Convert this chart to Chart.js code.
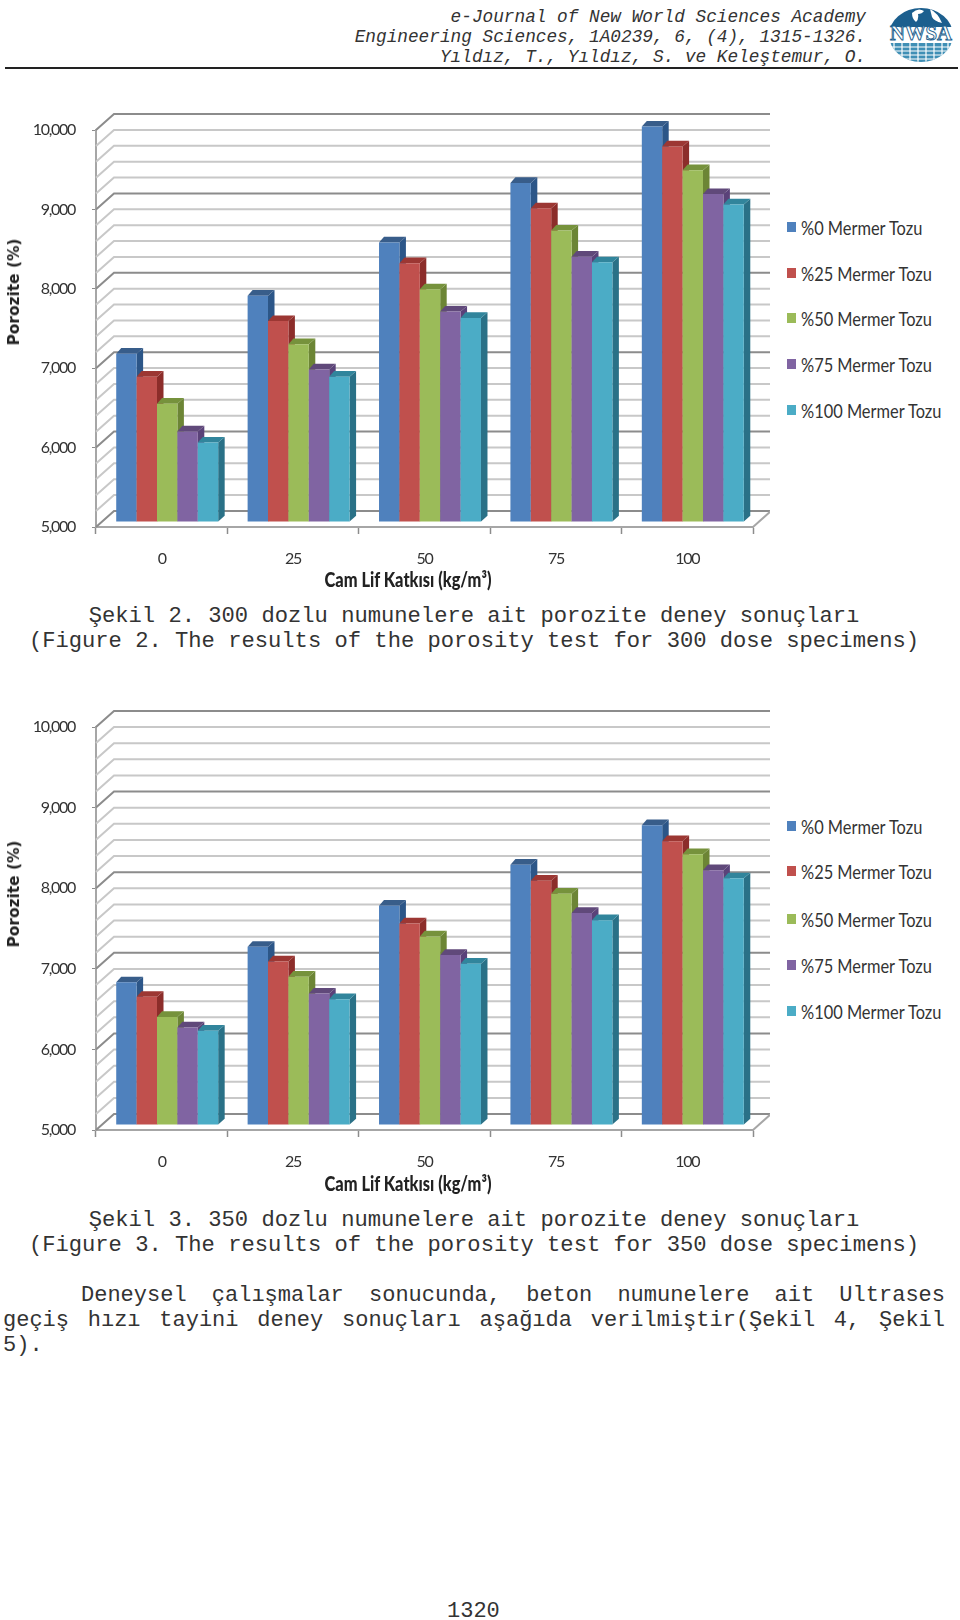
<!DOCTYPE html>
<html>
<head>
<meta charset="utf-8">
<title>Porozite</title>
<script src="https://cdn.jsdelivr.net/npm/chart.js@4/dist/chart.umd.min.js"></script>
<style>
html, body { margin: 0; background: #fff; }
#page { position: relative; width: 960px; height: 1620px; overflow: hidden; color: #222; }
canvas { position: absolute; left: 0; }
.t { position: absolute; white-space: pre; font-family: "Liberation Mono", monospace; line-height: 24px; height: 24px; }
.head { right: 94px; font-size: 17.75px; font-style: italic; color: #333; }
.cap { left: 0; width: 948px; text-align: center; font-size: 22.15px; color: #333; }
.par { font-size: 22px; text-align: justify; text-align-last: justify; white-space: normal; color: #333; }
.xt { font-family: Lato, sans-serif; font-weight: 900; font-size: 21px; transform: translateX(-50%) scaleX(.78); color: #222; }
.yt { font-family: "DejaVu Sans", sans-serif; font-weight: 700; font-size: 15.4px; transform: translate(-50%, -50%) rotate(-90deg); color: #222; }
.lg { position: absolute; left: 787px; height: 24px; width: 170px; }
.lg i { position: absolute; left: 0; top: 7px; width: 9px; height: 10px; }
.lg span { position: absolute; left: 14px; top: 0; line-height: 24px; font-family: Lato, sans-serif; font-size: 20px; color: #333; white-space: pre; transform: scaleX(.82); transform-origin: 0 50%; }
</style>
</head>
<body>
<div id="page">
  <div class="t head" style="top:5px">e-Journal of New World Sciences Academy</div>
  <div class="t head" style="top:25px">Engineering Sciences, 1A0239, 6, (4), 1315-1326.</div>
  <div class="t head" style="top:45px">Yıldız, T., Yıldız, S. ve Keleştemur, O.</div>
  <div style="position:absolute;left:5px;top:67px;width:953px;height:1.5px;background:#222"></div>
  <svg style="position:absolute;left:888px;top:7px" width="66" height="57" viewBox="0 0 66 57">
    <defs><clipPath id="globe"><ellipse cx="33" cy="28" rx="32" ry="27"/></clipPath></defs>
    <g clip-path="url(#globe)">
      <rect x="0" y="0" width="66" height="20" fill="#1c5f8e"/>
      <path d="M24 6 q6 -6 12 -2 q-2 3 -6 3 q1 5 -2 8 q-4 -3 -4 -9z M42 2 q8 4 12 14 q-8 -2 -10 -6z" fill="#fff"/>
      <rect x="0" y="36" width="66" height="20" fill="#3f8fb5"/>
      <path d="M0 40h66M0 44h66M0 48h66M0 52h66M6 36v20M14 36v20M22 36v20M30 36v20M38 36v20M46 36v20M54 36v20M60 36v20" stroke="#fff" stroke-width="1.2"/>
    </g>
    <text x="33" y="33" text-anchor="middle" font-family="Liberation Serif" font-weight="700" font-size="20" textLength="62" lengthAdjust="spacingAndGlyphs" fill="#fff" stroke="#1c5f8e" stroke-width=".9">NWSA</text>
  </svg>

  <canvas id="fig2" width="770" height="500" style="top:100px;width:770px;height:500px"></canvas>
  <canvas id="fig3" width="770" height="500" style="top:700px;width:770px;height:500px"></canvas>

  <div class="t yt" style="left:14px;top:292px;height:auto">Porozite (%)</div>
  <div class="t xt" style="left:408px;top:567px">Cam Lif Katkısı (kg/m³)</div>
  <div class="t yt" style="left:14px;top:894px;height:auto">Porozite (%)</div>
  <div class="t xt" style="left:408px;top:1171px">Cam Lif Katkısı (kg/m³)</div>
  <div id="legend2"></div>
  <div id="legend3"></div>

  <div class="t cap" style="top:605px">Şekil 2. 300 dozlu numunelere ait porozite deney sonuçları</div>
  <div class="t cap" style="top:630px">(Figure 2. The results of the porosity test for 300 dose specimens)</div>
  <div class="t cap" style="top:1209px">Şekil 3. 350 dozlu numunelere ait porozite deney sonuçları</div>
  <div class="t cap" style="top:1234px">(Figure 3. The results of the porosity test for 350 dose specimens)</div>
  <div class="t par" style="left:81px;width:864px;top:1284px">Deneysel çalışmalar sonucunda, beton numunelere ait Ultrases</div>
  <div class="t par" style="left:3px;width:942px;top:1309px">geçiş hızı tayini deney sonuçları aşağıda verilmiştir(Şekil 4, Şekil</div>
  <div class="t" style="left:3px;top:1334px;font-size:22px;color:#333">5).</div>
  <div class="t" style="left:447px;top:1600px;font-size:22px;color:#333">1320</div>
</div>

<script>
// Data
var categories = ['0', '25', '50', '75', '100'];
var seriesNames = ['%0 Mermer Tozu', '%25 Mermer Tozu', '%50 Mermer Tozu', '%75 Mermer Tozu', '%100 Mermer Tozu'];

var fig2m0 = [7.12, 7.85, 8.52, 9.27, 9.98];
var fig2m25 = [6.83, 7.53, 8.26, 8.95, 9.73];
var fig2m50 = [6.49, 7.24, 7.93, 8.67, 9.43];
var fig2m75 = [6.14, 6.92, 7.65, 8.34, 9.13];
var fig2m100 = [6.00, 6.83, 7.57, 8.27, 9.00];

var fig3m0 = [6.77, 7.21, 7.72, 8.23, 8.72];
var fig3m25 = [6.59, 7.03, 7.50, 8.03, 8.52];
var fig3m50 = [6.34, 6.84, 7.34, 7.87, 8.36];
var fig3m75 = [6.21, 6.63, 7.11, 7.63, 8.16];
var fig3m100 = [6.17, 6.56, 7.00, 7.54, 8.06];

var frontColors = ['#4f81bd', '#c0504d', '#9bbb59', '#8064a2', '#4bacc6'];
var sideColors = ['#2c5688', '#8c2d2a', '#6c8535', '#5a4279', '#2a7187'];
var topColors = ['#385d8a', '#9c3733', '#76923c', '#60497a', '#31859c'];

// Fake 3D: back walls from the scales, then bars with side and top faces
var walls3d = {
    id: 'walls3d',
    beforeDraw: function (chart) {
        // squeezes the tick labels, the reference font is a narrow one
        chart.ctx.letterSpacing = '-1.3px';
    },
    // the bars are drawn below in afterDatasetsDraw, left to right
    beforeDatasetDraw: function () {
        return false;
    },
    beforeDatasetsDraw: function (chart) {
        var ctx = chart.ctx, x = chart.scales.x, y = chart.scales.y;
        var wx = 18, wy = -16;
        ctx.save();
        ctx.lineWidth = 2;
        for (var i = 0; i <= 25; i++) {
            var py = y.getPixelForValue(5 + i * 0.2);
            ctx.strokeStyle = i % 5 === 0 ? '#8c8c8c' : '#c8c8c8';
            ctx.beginPath();
            ctx.moveTo(x.left, py);
            ctx.lineTo(x.left + wx, py + wy);
            ctx.lineTo(x.right + wx, py + wy);
            ctx.stroke();
        }
        // floor edge
        ctx.strokeStyle = '#a6a6a6';
        ctx.beginPath();
        ctx.moveTo(x.right, y.bottom);
        ctx.lineTo(x.right + wx, y.bottom + wy);
        ctx.stroke();
        ctx.restore();
    },
    afterDatasetsDraw: function (chart) {
        var ctx = chart.ctx;
        ctx.save();
        // bars stand a little inside the floor
        ctx.translate(5.5, -5);
        chart.data.datasets.forEach(function (ds, i) {
            chart.getDatasetMeta(i).data.forEach(function (bar) {
                var p = bar.getProps(['x', 'y', 'base', 'width'], true);
                var l = p.x - p.width / 2, r = p.x + p.width / 2;
                ctx.fillStyle = sideColors[i];
                ctx.beginPath();
                ctx.moveTo(r, p.y);
                ctx.lineTo(r + 6.5, p.y - 5.7);
                ctx.lineTo(r + 6.5, p.base - 5.7);
                ctx.lineTo(r, p.base);
                ctx.fill();
                ctx.fillStyle = topColors[i];
                ctx.beginPath();
                ctx.moveTo(l, p.y);
                ctx.lineTo(l + 5, p.y - 5.7);
                ctx.lineTo(r + 6.5, p.y - 5.7);
                ctx.lineTo(r, p.y);
                ctx.fill();
                bar.draw(ctx);
            });
        });
        ctx.restore();
    }
};

function makeChart(id, rows, top, bottom) {
    var datasets = rows.map(function (row, i) {
        return {
            label: seriesNames[i],
            data: row,
            base: 5,
            backgroundColor: frontColors[i]
        };
    });
    return new Chart(document.getElementById(id).getContext('2d'), {
        type: 'bar',
        data: { labels: categories, datasets: datasets },
        plugins: [walls3d],
        options: {
            responsive: false,
            animation: false,
            categoryPercentage: 0.776,
            barPercentage: 1,
            layout: { padding: { left: 0, right: 17, top: top, bottom: 0 } },
            plugins: { legend: { display: false }, title: { display: false }, tooltip: { enabled: false } },
            scales: {
                x: {
                    afterFit: function (s) { s.height = bottom; },
                    border: { color: '#a6a6a6', width: 2 },
                    grid: { drawOnChartArea: false, tickLength: 7, color: '#8c8c8c', tickWidth: 1.5 },
                    ticks: { padding: 15, color: '#333', font: { family: 'Lato', size: 16 } }
                },
                y: {
                    min: 5,
                    max: 10,
                    afterFit: function (s) { s.width = 96; },
                    border: { color: '#a6a6a6', width: 2 },
                    grid: { drawOnChartArea: false, tickLength: 4, color: '#8c8c8c' },
                    ticks: {
                        stepSize: 1,
                        padding: 17,
                        color: '#333',
                        font: { family: 'Lato', size: 16 },
                        callback: function (v) { return v.toFixed(3).replace('.', ','); }
                    }
                }
            }
        }
    });
}

makeChart('fig2', [fig2m0, fig2m25, fig2m50, fig2m75, fig2m100], 30, 73);
makeChart('fig3', [fig3m0, fig3m25, fig3m50, fig3m75, fig3m100], 27, 70);

// Legends beside the charts
function makeLegend(id, tops) {
    var box = document.getElementById(id);
    seriesNames.forEach(function (name, i) {
        var row = document.createElement('div');
        row.className = 'lg';
        row.style.top = (tops[i] - 12) + 'px';
        var mark = document.createElement('i');
        mark.style.background = frontColors[i];
        var text = document.createElement('span');
        text.textContent = name;
        row.appendChild(mark);
        row.appendChild(text);
        box.appendChild(row);
    });
}
makeLegend('legend2', [227, 273, 318, 364, 410]);
makeLegend('legend3', [826, 871, 919, 965, 1011]);
</script>
</body>
</html>
